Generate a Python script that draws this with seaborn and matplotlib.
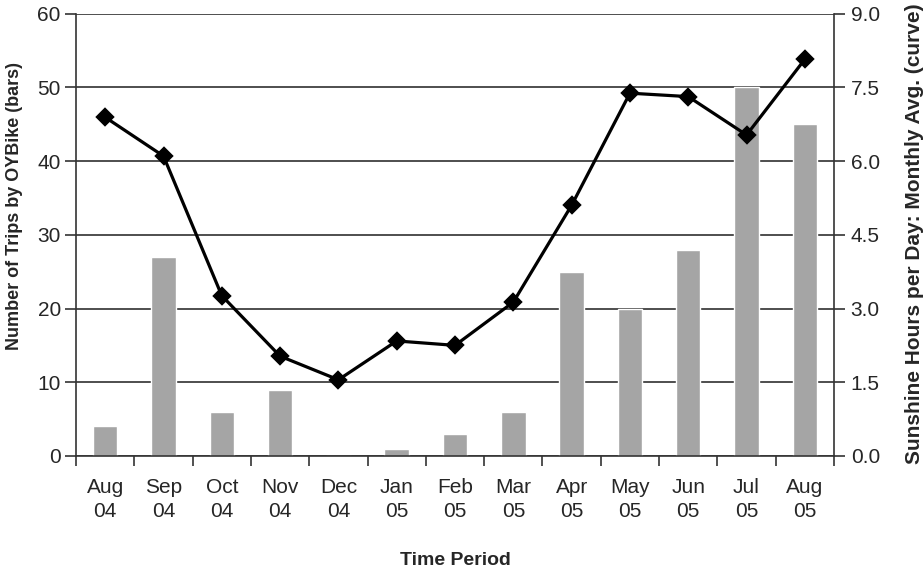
import numpy as np
import pandas as pd
import matplotlib
matplotlib.use("Agg")
import matplotlib.pyplot as plt
import seaborn as sns

# Monthly OYBike trips and sunshine hours
months = ["Aug\n04", "Sep\n04", "Oct\n04", "Nov\n04", "Dec\n04", "Jan\n05", "Feb\n05",
          "Mar\n05", "Apr\n05", "May\n05", "Jun\n05", "Jul\n05", "Aug\n05"]
trips = [4, 27, 6, 9, 0, 1, 3, 6, 25, 20, 28, 50, 45]
sunshine = [6.89, 6.10, 3.26, 2.03, 1.55, 2.34, 2.25, 3.13, 5.10, 7.38, 7.31, 6.53, 8.07]

left_ticks = [0, 10, 20, 30, 40, 50, 60]
right_ticks = [0.0, 1.5, 3.0, 4.5, 6.0, 7.5, 9.0]

df = pd.DataFrame({"month": months, "trips": trips, "sunshine": sunshine})

sns.set_theme(style="white")
plt.rcParams["font.family"] = ["Liberation Sans", "DejaVu Sans"]

fig = plt.figure(figsize=(9.24, 5.73), dpi=100)
ax = fig.add_axes([0.0823, 0.2042, 0.8203, 0.7722])

sns.barplot(data=df, x="month", y="trips", color="#a5a5a5", saturation=1,
            width=0.42, ax=ax, zorder=2)
ax.set_ylim(0, 60)
ax.set_yticks(left_ticks)
ax.set_yticklabels([str(t) for t in left_ticks], fontsize=15)
ax.yaxis.grid(True, color="#404040", linewidth=1.3, zorder=0)
ax.set_axisbelow(True)
ax.set_xlim(-0.5, len(months) - 0.5)

# category labels centred, tick marks on category boundaries
ax.set_xticks(np.arange(len(months)))
ax.set_xticklabels(months, fontsize=15, linespacing=1.35)
ax.set_xticks(np.arange(-0.5, len(months)), minor=True)
ax.tick_params(axis="x", which="major", length=0, pad=16)
ax.tick_params(axis="x", which="minor", length=7, width=1.2, color="#333333", direction="out", bottom=True)
ax.tick_params(axis="y", length=8, width=1.2, color="#333333", direction="out", left=True, pad=3)

ax.set_xlabel("Time Period", fontsize=14, fontweight="bold", labelpad=22)
ax.set_ylabel("Number of Trips by OYBike (bars)", fontsize=13, fontweight="bold")
ax.yaxis.set_label_coords(-0.070, 0.565)

for side in ["top", "right"]:
    ax.spines[side].set_visible(False)
for side in ["left", "bottom"]:
    ax.spines[side].set_color("#333333")
    ax.spines[side].set_linewidth(1.2)

ax2 = ax.twinx()
sns.pointplot(data=df, x="month", y="sunshine", color="black", markers="D",
              linestyles="-", markersize=8, linewidth=2.3, ax=ax2, zorder=5)
ax2.set_ylim(0, 9.0)
ax2.set_yticks(right_ticks)
ax2.set_yticklabels([f"{t:.1f}" for t in right_ticks], fontsize=15)
ax2.tick_params(axis="y", length=8, width=1.2, color="#333333", direction="out", right=True, pad=4)
ax2.set_ylabel("Sunshine Hours per Day: Monthly Avg. (curve)", fontsize=15, fontweight="bold")
ax2.yaxis.set_label_coords(1.094, 0.502)
ax2.set_xlim(-0.5, len(months) - 0.5)
ax2.set_xlabel("")
for side in ["top", "left", "bottom"]:
    ax2.spines[side].set_visible(False)
ax2.spines["right"].set_color("#333333")
ax2.spines["right"].set_linewidth(1.2)

fig.savefig("out.png", dpi=100)
